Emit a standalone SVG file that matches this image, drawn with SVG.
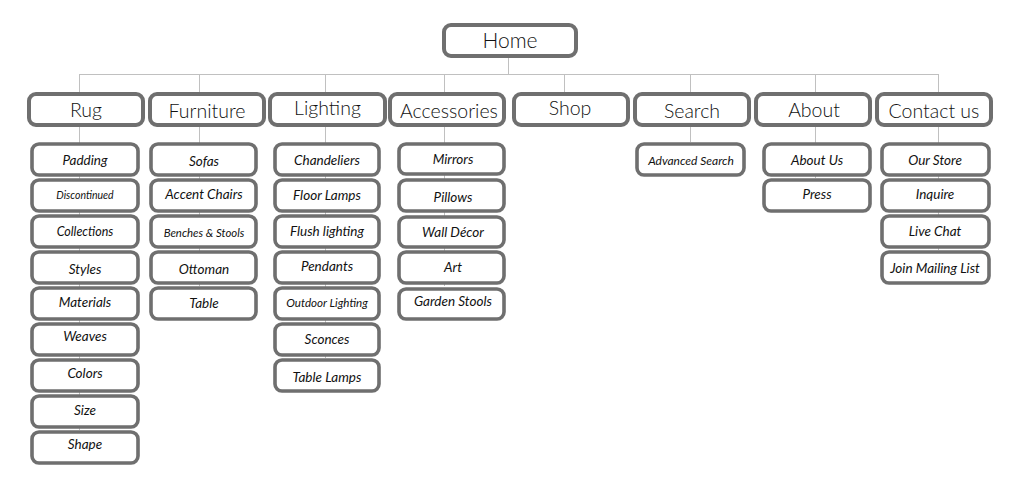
<svg xmlns="http://www.w3.org/2000/svg" width="1024" height="481" viewBox="0 0 1024 481">
<style>
.bg{fill:#fff}
.b1{fill:#fff;stroke:#6f6f6f;stroke-width:4}
.b2{fill:#fff;stroke:#6f6f6f;stroke-width:3.6}
.t0{font-family:Lato,"Open Sans",sans-serif;font-weight:300;font-size:21px;fill:#111;text-anchor:middle}
.t1{font-family:Lato,"Open Sans",sans-serif;font-weight:300;font-size:19.5px;fill:#111;text-anchor:middle}
.t2{font-family:Lato,"Open Sans",sans-serif;font-style:italic;font-size:13.5px;fill:#111;text-anchor:middle}
.c{stroke:#c0c0c0;stroke-width:1;fill:none}
</style>
<rect class="bg" x="0" y="0" width="1024" height="481"/>
<g id="connectors" class="c">
<path d="M508.5 57V74.5M79 74.5H938.5"/>
<path d="M79.5 74V430M199.5 74V286M325.5 74V358M444.5 74V286M564.5 74V94M690.5 74V142M815.5 74V178M938.5 74V250"/>
</g>
<g id="home"><rect class="b1" x="444" y="25" width="132" height="31" rx="7"/><text class="t0" x="510" y="48">Home</text></g>
<g id="rug"><rect class="b1" x="29" y="94" width="114" height="31" rx="7"/><text class="t1" x="86" y="117">Rug</text></g>
<g id="furniture"><rect class="b1" x="150" y="94" width="114" height="31" rx="7"/><text class="t1" x="207" y="118">Furniture</text></g>
<g id="lighting"><rect class="b1" x="270" y="94" width="115" height="31" rx="7"/><text class="t1" x="327.5" y="115">Lighting</text></g>
<g id="accessories"><rect class="b1" x="390" y="94" width="114" height="31" rx="7"/><text class="t1" x="449" y="118">Accessories</text></g>
<g id="shop"><rect class="b1" x="514" y="94" width="114" height="31" rx="7"/><text class="t1" x="570" y="115">Shop</text></g>
<g id="search"><rect class="b1" x="635" y="94" width="114" height="31" rx="7"/><text class="t1" x="692" y="118">Search</text></g>
<g id="about"><rect class="b1" x="756" y="94" width="114" height="31" rx="7"/><text class="t1" x="814" y="117">About</text></g>
<g id="contact"><rect class="b1" x="877" y="94" width="114" height="31" rx="7"/><text class="t1" x="934" y="118">Contact us</text></g>

<g id="padding"><rect class="b2" x="32" y="144" width="106" height="31" rx="7"/><text class="t2" x="85" y="164.5">Padding</text></g>
<g id="discontinued"><rect class="b2" x="32" y="180" width="106" height="31" rx="7"/><text class="t2" x="85" y="199" style="font-size:10.5px">Discontinued</text></g>
<g id="collections"><rect class="b2" x="32" y="216" width="106" height="31" rx="7"/><text class="t2" x="85" y="235.5" style="font-size:12.5px">Collections</text></g>
<g id="styles"><rect class="b2" x="32" y="252" width="106" height="31" rx="7"/><text class="t2" x="85" y="273.5">Styles</text></g>
<g id="materials"><rect class="b2" x="32" y="288" width="106" height="31" rx="7"/><text class="t2" x="85" y="306.5">Materials</text></g>
<g id="weaves"><rect class="b2" x="32" y="324" width="106" height="31" rx="7"/><text class="t2" x="85" y="340.5">Weaves</text></g>
<g id="colors"><rect class="b2" x="32" y="360" width="106" height="31" rx="7"/><text class="t2" x="85" y="377.5">Colors</text></g>
<g id="size"><rect class="b2" x="32" y="396" width="106" height="31" rx="7"/><text class="t2" x="85" y="414.5">Size</text></g>
<g id="shape"><rect class="b2" x="32" y="432" width="106" height="31" rx="7"/><text class="t2" x="85" y="448.5">Shape</text></g>

<g id="sofas"><rect class="b2" x="151" y="144" width="105" height="31" rx="7"/><text class="t2" x="204" y="165.5">Sofas</text></g>
<g id="accent-chairs"><rect class="b2" x="151" y="180" width="105" height="31" rx="7"/><text class="t2" x="204" y="198.5">Accent Chairs</text></g>
<g id="benches"><rect class="b2" x="151" y="216" width="105" height="31" rx="7"/><text class="t2" x="204" y="236.5" style="font-size:11.4px">Benches &amp; Stools</text></g>
<g id="ottoman"><rect class="b2" x="151" y="252" width="105" height="31" rx="7"/><text class="t2" x="204" y="273.5">Ottoman</text></g>
<g id="table"><rect class="b2" x="151" y="288" width="105" height="31" rx="7"/><text class="t2" x="204" y="307.5">Table</text></g>

<g id="chandeliers"><rect class="b2" x="275" y="144" width="104" height="31" rx="7"/><text class="t2" x="327" y="164.5">Chandeliers</text></g>
<g id="floor-lamps"><rect class="b2" x="275" y="180" width="104" height="31" rx="7"/><text class="t2" x="327" y="199.5">Floor Lamps</text></g>
<g id="flush"><rect class="b2" x="275" y="216" width="104" height="31" rx="7"/><text class="t2" x="327" y="235.5">Flush lighting</text></g>
<g id="pendants"><rect class="b2" x="275" y="252" width="104" height="31" rx="7"/><text class="t2" x="327" y="270.5">Pendants</text></g>
<g id="outdoor"><rect class="b2" x="275" y="288" width="104" height="31" rx="7"/><text class="t2" x="327" y="306.5" style="font-size:11.6px">Outdoor Lighting</text></g>
<g id="sconces"><rect class="b2" x="275" y="324" width="104" height="31" rx="7"/><text class="t2" x="327" y="343.5">Sconces</text></g>
<g id="table-lamps"><rect class="b2" x="275" y="360" width="104" height="31" rx="7"/><text class="t2" x="327" y="381.5">Table Lamps</text></g>

<g id="mirrors"><rect class="b2" x="399" y="144" width="105" height="30" rx="7"/><text class="t2" x="453" y="163.5">Mirrors</text></g>
<g id="pillows"><rect class="b2" x="399" y="180" width="105" height="31" rx="7"/><text class="t2" x="453" y="201.5">Pillows</text></g>
<g id="wall-decor"><rect class="b2" x="399" y="217" width="105" height="30" rx="7"/><text class="t2" x="453" y="236.5">Wall Décor</text></g>
<g id="art"><rect class="b2" x="399" y="252" width="105" height="31" rx="7"/><text class="t2" x="453" y="271.5">Art</text></g>
<g id="garden-stools"><rect class="b2" x="399" y="289" width="105" height="30" rx="7"/><text class="t2" x="453" y="305.5">Garden Stools</text></g>

<g id="advanced-search"><rect class="b2" x="637" y="144" width="107" height="31" rx="7"/><text class="t2" x="691" y="165" style="font-size:12px">Advanced Search</text></g>

<g id="about-us"><rect class="b2" x="764" y="144" width="106" height="31" rx="7"/><text class="t2" x="817" y="164.5">About Us</text></g>
<g id="press"><rect class="b2" x="764" y="180" width="106" height="31" rx="7"/><text class="t2" x="817" y="198.5">Press</text></g>

<g id="our-store"><rect class="b2" x="882" y="144" width="107" height="31" rx="7"/><text class="t2" x="935" y="164.5">Our Store</text></g>
<g id="inquire"><rect class="b2" x="882" y="180" width="107" height="31" rx="7"/><text class="t2" x="935" y="198.5">Inquire</text></g>
<g id="live-chat"><rect class="b2" x="882" y="216" width="107" height="31" rx="7"/><text class="t2" x="935" y="235.5">Live Chat</text></g>
<g id="join"><rect class="b2" x="882" y="252" width="107" height="31" rx="7"/><text class="t2" x="935" y="272.5">Join Mailing List</text></g>
</svg>
